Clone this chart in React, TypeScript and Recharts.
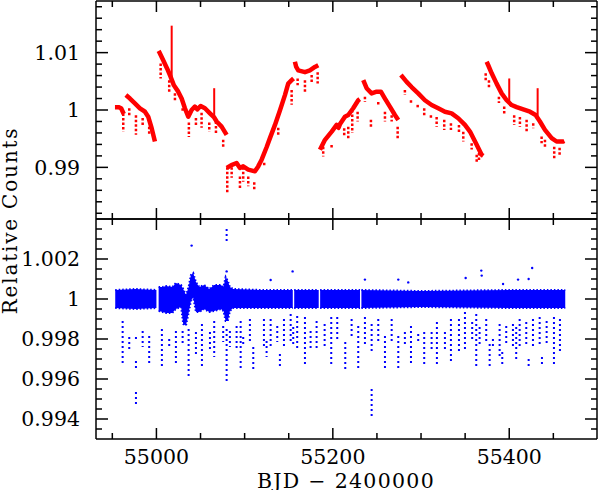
import React from 'react';
import { ComposedChart, Line, Area, XAxis, YAxis, ReferenceLine, ReferenceDot } from 'recharts';

// ---------- axis ticks ----------
const X_DOMAIN = [54931.5, 55499.5];
const X_TICKS = [54950, 55000, 55050, 55100, 55150, 55200, 55250, 55300, 55350, 55400, 55450];
const X_MAJOR = [55000, 55200, 55400];

const TOP_Y_DOMAIN = [0.981, 1.019];
const TOP_Y_TICKS = [0.982, 0.984, 0.986, 0.988, 0.99, 0.992, 0.994, 0.996, 0.998, 1, 1.002, 1.004, 1.006, 1.008, 1.01, 1.012, 1.014, 1.016, 1.018];
const TOP_Y_MAJOR = [0.99, 1, 1.01];

const BOT_Y_DOMAIN = [0.993, 1.004];
const BOT_Y_TICKS = [0.9935, 0.994, 0.9945, 0.995, 0.9955, 0.996, 0.9965, 0.997, 0.9975, 0.998, 0.9985, 0.999, 0.9995, 1, 1.0005, 1.001, 1.0015, 1.002, 1.0025, 1.003, 1.0035];
const BOT_Y_MAJOR = [0.994, 0.996, 0.998, 1, 1.002];

const Y_TITLE = 'Relative Counts';
const X_TITLE = 'BJD \u2212 2400000';

// ---------- top panel: raw light curve segments [t, flux] ----------
const q0: [number, number][] = [[54953, 1.0005], [54957, 1.0005], [54960, 1.0003], [54963, 0.9993]];
const q1: [number, number][] = [[54965.4, 1.0026], [54970, 1.002], [54975.6, 1.00116], [54981.3, 1.0003], [54987, 0.9997], [54990.7, 0.99884], [54994.6, 0.99682], [54998.3, 0.99451]];
const q2: [number, number][] = [[55002.5, 1.0103], [55003.2, 1.0101], [55007.7, 1.00867], [55012.2, 1.0072], [55015.3, 1.0061], [55017.3, 1.0053], [55019.8, 1.0043], [55024.7, 1.0032], [55028.6, 1.002], [55032.3, 1.0003], [55036.1, 0.99884], [55039.9, 1.0], [55043.6, 1.0006], [55046.3, 1.0001], [55050.1, 1.0007], [55055, 1.0003], [55060.7, 0.99942], [55065.5, 0.9987], [55068.3, 0.998], [55073.9, 0.9971], [55079.6, 0.99567]];
const q3: [number, number][] = [[55079.8, 0.9899], [55085, 0.9904], [55090.9, 0.99076], [55094.7, 0.9899], [55098.4, 0.99017], [55104.1, 0.9896], [55111.7, 0.98931], [55115.4, 0.99017], [55119.3, 0.99134], [55124.9, 0.9935], [55128.7, 0.9951], [55134.4, 0.9974], [55140, 0.9999], [55145.7, 1.0026], [55149.4, 1.0046], [55153.3, 1.0052], [55155.5, 1.0055]];
const q4: [number, number][] = [[55157, 1.0084], [55158.5, 1.0075], [55160.8, 1.0069], [55168.4, 1.0066], [55174, 1.0069], [55179.7, 1.0075], [55183.5, 1.0078]];
const q5a: [number, number][] = [[55185.4, 0.99307], [55191.1, 0.9948], [55198.7, 0.99624], [55204.3, 0.9974], [55206.5, 0.9969], [55208, 0.9975], [55213.7, 0.99884], [55217.5, 0.99913], [55223.1, 1.0003], [55228.8, 1.0017], [55230.5, 1.0019]];
const q5b: [number, number][] = [[55234.5, 1.0052], [55238.3, 1.0038], [55244, 1.0029], [55249.7, 1.0032], [55254.5, 1.0032], [55259.1, 1.002], [55264.7, 1.0006], [55270.4, 0.99913], [55274.2, 0.99827]];
const q6: [number, number][] = [[55277.2, 1.0061], [55283.7, 1.0049], [55289.3, 1.004], [55296.8, 1.0029], [55304.4, 1.0017], [55312, 1.00087], [55319.5, 1.0003], [55327.1, 0.9997], [55334.7, 0.99942], [55342.2, 0.99856], [55349.8, 0.9974], [55355.5, 0.99624], [55363.1, 0.99393], [55368.7, 0.9922], [55370.5, 0.992]];
const q7: [number, number][] = [[55374.4, 1.0084], [55376.2, 1.0078], [55380.1, 1.0064], [55385.7, 1.0046], [55391.4, 1.0029], [55397.1, 1.0017], [55402.7, 1.00087], [55408.4, 1.0005], [55415.9, 1.0001], [55423.5, 0.9997], [55429.9, 0.99913], [55434.8, 0.998], [55440.5, 0.99653], [55448.1, 0.9951], [55453.7, 0.99451], [55461.2, 0.99451], [55462.5, 0.9946]];

// flare spikes [t, base, peak]
const spikes: [number, number, number][] = [[55017.3, 1.0055, 1.0147], [55065.5, 0.9985, 1.0038], [55400.0, 1.0015, 1.0055], [55432.2, 0.999, 1.0038]];

// transit-like dips in the raw curve [t, upper, lower]
const topDips: [number, number, number][] = [
  [54962.4, 0.9994, 0.9962], [54969.2, 1.0003, 0.9991], [54976.8, 0.9991, 0.9957], [54984.4, 0.9986, 0.9971], [54991.8, 0.9971, 0.9957],
  [55004.8, 1.0081, 1.0055], [55014.5, 1.0052, 1.0032], [55021.0, 1.0029, 1.0014], [55029.7, 1.0003, 0.9995], [55036.8, 0.9978, 0.9953],
  [55044.8, 0.9986, 0.9971], [55051.2, 0.9995, 0.9969], [55059.9, 0.9978, 0.9962], [55067.5, 0.998, 0.9957], [55075.7, 0.9948, 0.9936],
  [55080.3, 0.99, 0.9856], [55085.3, 0.99, 0.9882], [55094.7, 0.9884, 0.9861], [55098.4, 0.99, 0.9875], [55104.1, 0.9884, 0.9867],
  [55110.9, 0.9874, 0.9861], [55122.2, 0.9908, 0.99], [55124.9, 0.9939, 0.9931], [55138.1, 0.9969, 0.9957], [55153.3, 1.0035, 1.0009],
  [55160.1, 1.0055, 1.0043], [55168.4, 1.0052, 1.0032], [55176.0, 1.0061, 1.0047], [55182.8, 1.0066, 1.0046], [55189.1, 0.9936, 0.9919],
  [55198.6, 0.9939, 0.9931], [55212.9, 0.9968, 0.9954], [55217.5, 0.9971, 0.9948], [55222.0, 1.0, 0.996], [55228.1, 0.9997, 0.998],
  [55236.4, 1.0023, 1.0014], [55243.2, 0.9983, 0.9968], [55251.5, 1.0014, 1.0006], [55259.1, 0.9997, 0.998], [55266.7, 0.9991, 0.998],
  [55273.5, 0.9971, 0.9948], [55281.7, 1.0035, 1.0026], [55288.6, 1.0017, 1.0009], [55296.2, 1.0009, 1.0003], [55303.6, 1.0003, 0.9988],
  [55311.2, 0.9991, 0.9983], [55317.7, 0.9988, 0.9971], [55326.3, 0.9983, 0.9965], [55333.9, 0.9977, 0.9965], [55343.0, 0.9974, 0.996],
  [55347.9, 0.9962, 0.9945], [55357.4, 0.9942, 0.9931], [55363.1, 0.9922, 0.991], [55365.7, 0.9925, 0.9913], [55373.3, 1.0064, 1.0052],
  [55377.0, 1.0052, 1.0038], [55388.3, 1.0023, 1.0012], [55394.3, 1.0006, 0.9994], [55405.6, 0.9991, 0.9974], [55412.1, 0.9988, 0.9971],
  [55419.7, 0.9983, 0.9962], [55427.2, 0.9977, 0.9968], [55436.7, 0.9954, 0.9942], [55440.5, 0.9948, 0.9936], [55451.0, 0.9936, 0.9913],
  [55457.1, 0.9934, 0.9919],
];

// ---------- bottom panel: detrended band segments [t, low, high] ----------
const bandA: [number, number, number][] = [[54953.3, 0.99955, 1.00045], [54976, 0.9995, 1.0005], [55000, 0.99955, 1.00045]];
const bandB: [number, number, number][] = [
  [55002.5, 0.9994, 1.0006], [55007, 0.99935, 1.0006], [55011, 0.9993, 1.00065], [55018, 0.9993, 1.0006], [55022, 0.9995, 1.0008],
  [55028, 0.9996, 1.0007], [55030.4, 0.99875, 1.0005], [55033.5, 0.99867, 1.0002], [55036.5, 0.9993, 1.0006], [55039.1, 0.9999, 1.0012],
  [55041.7, 1.0001, 1.0013], [55044.8, 0.99935, 1.00085], [55048.6, 0.99935, 1.0006], [55054.2, 0.9995, 1.0007], [55059.9, 0.99935, 1.0005],
  [55065.5, 0.9994, 1.0007], [55073.1, 0.9995, 1.0007], [55076, 0.9994, 1.0006], [55078.5, 0.9989, 1.0011], [55081, 0.9989, 1.0009],
  [55083.3, 0.9994, 1.0006], [55087, 0.99955, 1.0005], [55120, 0.99955, 1.00045], [55154.6, 0.99955, 1.00045],
];
const bandC: [number, number, number][] = [[55156.2, 0.99955, 1.00045], [55170, 0.99955, 1.00045], [55184, 0.99955, 1.00045]];
const bandD: [number, number, number][] = [[55185.6, 0.99955, 1.00045], [55208, 0.99955, 1.00045], [55230.8, 0.99955, 1.00045]];
const bandE: [number, number, number][] = [[55232.4, 0.99955, 1.00045], [55300, 0.9996, 1.0004], [55400, 0.99955, 1.00045], [55463.5, 0.99955, 1.00045]];

// transit points in the detrended curve [t, upper, lower]
const botDips: [number, number, number][] = [
  [54961.7, 0.9989, 0.99665], [54969.2, 0.9981, 0.9975], [54976.8, 0.9981, 0.99785], [54976.8, 0.9969, 0.9965], [54976.8, 0.99535, 0.99475],
  [54984.4, 0.9984, 0.9976], [54991.8, 0.99815, 0.99665], [55006.2, 0.9985, 0.99665], [55014.5, 0.998, 0.99765], [55022.1, 0.9984, 0.99675],
  [55029.7, 0.9984, 0.99775], [55036.5, 0.9985, 0.99615], [55044.8, 0.99835, 0.99725], [55051.6, 0.99875, 0.9965], [55060.7, 0.99835, 0.99735],
  [55065.5, 0.9989, 0.9971], [55075.7, 0.99865, 0.99785], [55079.6, 0.9985, 0.99585], [55079.6, 1.0035, 1.00285], [55083.3, 0.9984, 0.9976],
  [55090.9, 0.99865, 0.9975], [55095.5, 0.9989, 0.9965], [55098.4, 0.9981, 0.99765], [55106.0, 0.999, 0.99775], [55109.8, 0.9976, 0.9965],
  [55121.9, 0.999, 0.9975], [55124.9, 0.9979, 0.9971], [55129.5, 0.999, 0.9975], [55137.0, 0.99865, 0.99785], [55140.0, 0.99725, 0.9965],
  [55144.6, 0.999, 0.9976], [55152.2, 0.99925, 0.99775], [55155.1, 0.9986, 0.99765], [55159.6, 0.99915, 0.9974], [55168.4, 0.9991, 0.99665],
  [55174.8, 0.9984, 0.9975], [55181.6, 0.9989, 0.9975], [55190.7, 0.99875, 0.9976], [55198.2, 0.9991, 0.99665], [55205.0, 0.9991, 0.99785],
  [55214.1, 0.99785, 0.9965], [55221.3, 0.999, 0.998], [55228.8, 0.99865, 0.9965], [55236.4, 0.9991, 0.9976], [55244.0, 0.99875, 0.99725],
  [55244.0, 0.9955, 0.99415], [55251.5, 0.999, 0.99775], [55259.1, 0.99815, 0.9964], [55266.7, 0.999, 0.9979], [55274.2, 0.99815, 0.9965],
  [55281.7, 0.99835, 0.9976], [55288.6, 0.99865, 0.99675], [55296.8, 0.99825, 0.99785], [55303.6, 0.99835, 0.9966], [55312.0, 0.99835, 0.9975],
  [55318.0, 0.99885, 0.99665], [55327.1, 0.99835, 0.9975], [55333.9, 0.999, 0.9969], [55343.0, 0.999, 0.9974], [55349.8, 0.99935, 0.9974],
  [55358.0, 0.99885, 0.99785], [55362.6, 0.99925, 0.9965], [55366.4, 0.9986, 0.99765], [55373.9, 0.999, 0.9979], [55377.8, 0.99775, 0.9965],
  [55381.5, 0.998, 0.9975], [55389.1, 0.99875, 0.99715], [55392.1, 0.99735, 0.99665], [55396.6, 0.99865, 0.99765], [55404.2, 0.99875, 0.9975],
  [55407.9, 0.9986, 0.99685], [55411.8, 0.999, 0.9976], [55419.3, 0.99885, 0.99765], [55422.0, 0.997, 0.99665], [55426.9, 0.999, 0.99765],
  [55434.5, 0.9991, 0.9976], [55437.1, 0.9971, 0.9966], [55442.4, 0.9989, 0.99765], [55450.7, 0.9991, 0.99665], [55457.5, 0.999, 0.9974],
];

// isolated high points [t, flux]
const botHigh: [number, number][] = [
  [55039.9, 1.00267], [55079.6, 1.00138], [55154.4, 1.00138], [55129.5, 1.00095], [55236.4, 1.00097], [55274.2, 1.00097],
  [55285.5, 1.00083], [55350.6, 1.00105], [55368.3, 1.00142], [55368.8, 1.00117], [55393, 1.00075], [55410, 1.00097],
  [55422, 1.001], [55426, 1.00155],
];

const FONT = "'DejaVu Serif', 'Liberation Serif', serif";
const FS = 20.5;
const RED = '#ff0000';
const BLUE = '#0000ff';

const toLine = (a: [number, number][]) => a.map(([t, f]) => ({ t, f }));
const toBand = (a: [number, number, number][]) => a.map(([t, lo, hi]) => ({ t, r: [lo, hi] }));
const fmt = (v: number) => String(Number(v.toFixed(5)));

function XTick(props: any) {
  const { x, y, payload, side, showLabel } = props;
  const v = payload.value;
  const major = X_MAJOR.includes(v);
  const len = major ? 11 : 6;
  const dir = side === 'bottom' ? -1 : 1;
  return (
    <g>
      <line x1={x} x2={x} y1={y} y2={y + dir * len} stroke="#000" strokeWidth={1.5} />
      {showLabel && major && (
        <text x={x} y={y + 25} textAnchor="middle" fontFamily={FONT} fontSize={FS} fill="#000">{fmt(v)}</text>
      )}
    </g>
  );
}

function YTick(props: any) {
  const { x, y, payload, side, showLabel, majors } = props;
  const v = payload.value;
  const major = majors.some((m: number) => Math.abs(m - v) < 1e-9);
  const len = major ? 12 : 6;
  const dir = side === 'left' ? 1 : -1;
  return (
    <g>
      <line x1={x} x2={x + dir * len} y1={y} y2={y} stroke="#000" strokeWidth={1.5} />
      {showLabel && major && (
        <text x={x - 16} y={y + 7.4} textAnchor="end" fontFamily={FONT} fontSize={FS} fill="#000">{fmt(v)}</text>
      )}
    </g>
  );
}

export default function App() {
  const axisLine = { stroke: '#000', strokeWidth: 1.5 };
  const topSegs = [q0, q1, q2, q3, q4, q5a, q5b, q6, q7];
  const bands = [bandA, bandB, bandC, bandD, bandE];

  const commonX = (id: any, orientation: 'top' | 'bottom', showLabel: boolean) => (
    <XAxis
      xAxisId={id}
      orientation={orientation}
      dataKey="t"
      type="number"
      domain={X_DOMAIN}
      allowDataOverflow
      ticks={X_TICKS}
      interval={0}
      height={1}
      tickSize={0}
      tickMargin={0}
      tickLine={false}
      axisLine={axisLine}
      tick={(p: any) => <XTick {...p} side={orientation} showLabel={showLabel} />}
    />
  );
  const commonY = (id: any, orientation: 'left' | 'right', domain: number[], ticks: number[], majors: number[]) => (
    <YAxis
      yAxisId={id}
      orientation={orientation}
      type="number"
      domain={domain}
      allowDataOverflow
      ticks={ticks}
      interval={0}
      width={1}
      tickSize={0}
      tickMargin={0}
      tickLine={false}
      axisLine={axisLine}
      tick={(p: any) => <YTick {...p} side={orientation} showLabel={orientation === 'left'} majors={majors} />}
    />
  );

  return (
    <div style={{ position: 'absolute', left: 0, top: 0, width: 598, height: 490, background: '#fff' }}>
      <div style={{ position: 'absolute', left: 0, top: 0 }}>
        <ComposedChart width={598} height={220} margin={{ top: 0, right: 0, bottom: 0, left: 95 }}>
          {commonX(0, 'bottom', false)}
          {commonX('top', 'top', false)}
          {commonY(0, 'left', TOP_Y_DOMAIN, TOP_Y_TICKS, TOP_Y_MAJOR)}
          {commonY('right', 'right', TOP_Y_DOMAIN, TOP_Y_TICKS, TOP_Y_MAJOR)}
          {topDips.map(([t, hi, lo], i) => (
            <ReferenceLine key={'td' + i} segment={[{ x: t, y: hi }, { x: t, y: lo }]} stroke={RED} strokeWidth={2.5} strokeDasharray="2.5 2" />
          ))}
          {topSegs.map((s, i) => (
            <Line key={'q' + i} data={toLine(s)} dataKey="f" type="linear" stroke={RED} strokeWidth={4.5} strokeLinejoin="round" dot={false} isAnimationActive={false} />
          ))}
          {spikes.map(([t, b, p], i) => (
            <Line key={'s' + i} data={[{ t, f: b }, { t, f: p }]} dataKey="f" type="linear" stroke={RED} strokeWidth={2} dot={false} isAnimationActive={false} />
          ))}
        </ComposedChart>
      </div>
      <div style={{ position: 'absolute', left: 0, top: 218 }}>
        <ComposedChart width={598} height={272} margin={{ top: 0, right: 0, bottom: 50, left: 95 }}>
          {commonX(0, 'bottom', true)}
          {commonX('top', 'top', false)}
          {commonY(0, 'left', BOT_Y_DOMAIN, BOT_Y_TICKS, BOT_Y_MAJOR)}
          {commonY('right', 'right', BOT_Y_DOMAIN, BOT_Y_TICKS, BOT_Y_MAJOR)}
          {bands.map((b, i) => (
            <Area key={'b' + i} data={toBand(b)} dataKey="r" type="linear" stroke={BLUE} strokeWidth={2} strokeDasharray="1.5 2" fill={BLUE} fillOpacity={1} dot={false} activeDot={false} isAnimationActive={false} />
          ))}
          {botDips.map(([t, hi, lo], i) => (
            <ReferenceLine key={'bd' + i} segment={[{ x: t, y: hi }, { x: t, y: lo }]} stroke={BLUE} strokeWidth={2} strokeDasharray="2 3" />
          ))}
          {botHigh.map(([t, f], i) => (
            <ReferenceDot key={'bh' + i} x={t} y={f} r={1.2} fill={BLUE} stroke="none" />
          ))}
        </ComposedChart>
      </div>
      <svg width={598} height={490} style={{ position: 'absolute', left: 0, top: 0, pointerEvents: 'none' }}>
        <text transform="translate(16.5,220.5) rotate(-90)" textAnchor="middle" fontFamily={FONT} fontSize={20} letterSpacing={1.8} fill="#000">{Y_TITLE}</text>
        <text x={346} y={488} textAnchor="middle" fontFamily={FONT} fontSize={20.5} letterSpacing={1.3} fill="#000">{X_TITLE}</text>
      </svg>
    </div>
  );
}
